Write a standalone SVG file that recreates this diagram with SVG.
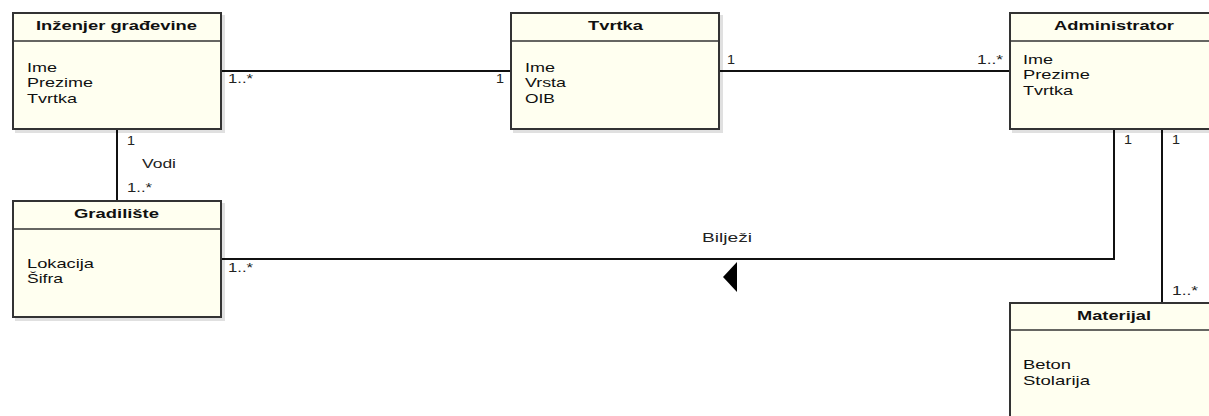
<svg xmlns="http://www.w3.org/2000/svg" width="1209" height="416" viewBox="0 0 1209 416">
<style>
.box{fill:#fffff0;stroke:#333;stroke-width:2}
.shadow{fill:#000;opacity:0.12}
.div{stroke:#333;stroke-width:1.5}
text{font-family:"Liberation Sans",Arial,sans-serif;lengthAdjust:spacingAndGlyphs}
.title{font-size:13px;font-weight:bold;fill:#111}
.attr{font-size:13px;fill:#111}
.lbl{font-size:12.5px;fill:#222}
.conn{fill:none;stroke:#111;stroke-width:2}
</style>
<rect width="1209" height="416" fill="#fff"/>
<g id="connectors">
<line class="conn" x1="221" y1="71" x2="511" y2="71"/>
<line class="conn" x1="719" y1="71" x2="1010" y2="71"/>
<line class="conn" x1="117" y1="129" x2="117" y2="201"/>
<polyline class="conn" points="221,259 1114,259 1114,129"/>
<line class="conn" x1="1162" y1="129" x2="1162" y2="303"/>
<polygon points="723,277 737,262 737,292" fill="#000"/>
<text class="lbl" x="228" y="83" textLength="25" lengthAdjust="spacingAndGlyphs">1..*</text>
<text class="lbl" x="496" y="83" textLength="8" lengthAdjust="spacingAndGlyphs">1</text>
<text class="lbl" x="727" y="64" textLength="8" lengthAdjust="spacingAndGlyphs">1</text>
<text class="lbl" x="977" y="64" textLength="26" lengthAdjust="spacingAndGlyphs">1..*</text>
<text class="lbl" x="127" y="145" textLength="8" lengthAdjust="spacingAndGlyphs">1</text>
<text class="lbl" x="142" y="168" textLength="34" lengthAdjust="spacingAndGlyphs">Vodi</text>
<text class="lbl" x="127" y="192" textLength="25" lengthAdjust="spacingAndGlyphs">1..*</text>
<text class="lbl" x="228" y="272" textLength="25" lengthAdjust="spacingAndGlyphs">1..*</text>
<text class="lbl" x="702" y="242" textLength="50" lengthAdjust="spacingAndGlyphs">Bilježi</text>
<text class="lbl" x="1124" y="144" textLength="8" lengthAdjust="spacingAndGlyphs">1</text>
<text class="lbl" x="1172" y="144" textLength="8" lengthAdjust="spacingAndGlyphs">1</text>
<text class="lbl" x="1172" y="295" textLength="26" lengthAdjust="spacingAndGlyphs">1..*</text>
</g>
<g id="inzenjer">
<rect class="shadow" x="15" y="15" width="210" height="118"/>
<rect class="box" x="13" y="13" width="208" height="116"/>
<line class="div" x1="13" y1="41" x2="221" y2="41"/>
<text class="title" x="36" y="30" textLength="161" lengthAdjust="spacingAndGlyphs">Inženjer građevine</text>
<text class="attr" x="27" y="72" textLength="30" lengthAdjust="spacingAndGlyphs">Ime</text>
<text class="attr" x="27" y="87" textLength="66" lengthAdjust="spacingAndGlyphs">Prezime</text>
<text class="attr" x="27" y="103" textLength="50" lengthAdjust="spacingAndGlyphs">Tvrtka</text>
</g>
<g id="tvrtka">
<rect class="shadow" x="513" y="15" width="210" height="118"/>
<rect class="box" x="511" y="13" width="208" height="116"/>
<line class="div" x1="511" y1="41" x2="719" y2="41"/>
<text class="title" x="588" y="30" textLength="55" lengthAdjust="spacingAndGlyphs">Tvrtka</text>
<text class="attr" x="525" y="72" textLength="30" lengthAdjust="spacingAndGlyphs">Ime</text>
<text class="attr" x="525" y="87" textLength="41" lengthAdjust="spacingAndGlyphs">Vrsta</text>
<text class="attr" x="525" y="103" textLength="30" lengthAdjust="spacingAndGlyphs">OIB</text>
</g>
<g id="administrator">
<rect class="shadow" x="1012" y="15" width="210" height="118"/>
<rect class="box" x="1010" y="13" width="208" height="116"/>
<line class="div" x1="1010" y1="41" x2="1218" y2="41"/>
<text class="title" x="1054" y="30" textLength="120" lengthAdjust="spacingAndGlyphs">Administrator</text>
<text class="attr" x="1023" y="64" textLength="30" lengthAdjust="spacingAndGlyphs">Ime</text>
<text class="attr" x="1023" y="79" textLength="67" lengthAdjust="spacingAndGlyphs">Prezime</text>
<text class="attr" x="1023" y="95" textLength="50" lengthAdjust="spacingAndGlyphs">Tvrtka</text>
</g>
<g id="gradiliste">
<rect class="shadow" x="15" y="203" width="210" height="118"/>
<rect class="box" x="13" y="201" width="208" height="116"/>
<line class="div" x1="13" y1="229" x2="221" y2="229"/>
<text class="title" x="74" y="218" textLength="85" lengthAdjust="spacingAndGlyphs">Gradilište</text>
<text class="attr" x="27" y="268" textLength="67" lengthAdjust="spacingAndGlyphs">Lokacija</text>
<text class="attr" x="27" y="283" textLength="36" lengthAdjust="spacingAndGlyphs">Šifra</text>
</g>
<g id="materijal">
<rect class="shadow" x="1012" y="305" width="210" height="118"/>
<rect class="box" x="1010" y="303" width="208" height="116"/>
<line class="div" x1="1010" y1="330" x2="1218" y2="330"/>
<text class="title" x="1077" y="320" textLength="74" lengthAdjust="spacingAndGlyphs">Materijal</text>
<text class="attr" x="1023" y="369" textLength="48" lengthAdjust="spacingAndGlyphs">Beton</text>
<text class="attr" x="1023" y="385" textLength="67" lengthAdjust="spacingAndGlyphs">Stolarija</text>
</g>
</svg>
